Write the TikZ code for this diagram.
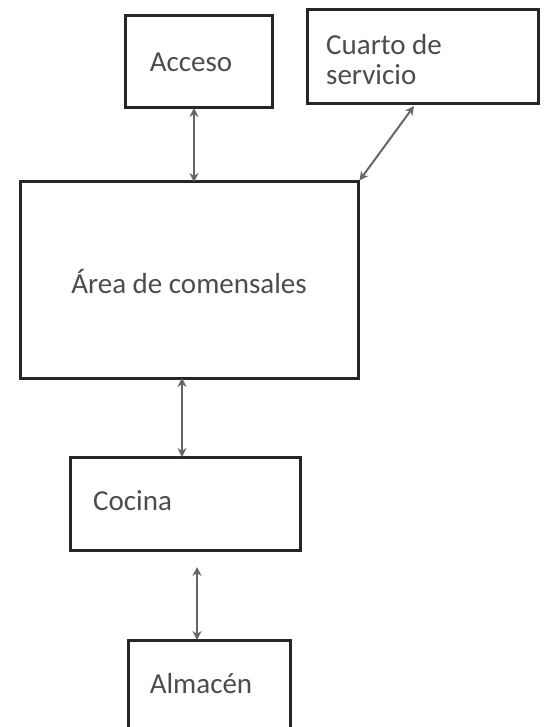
\documentclass[tikz,border=0pt]{standalone}
\usepackage{fontspec}
\setmainfont{Carlito}
\usetikzlibrary{arrows.meta}
\begin{document}
\begin{tikzpicture}[x=1pt,y=-1pt,
  room/.style={draw=black!85,line width=3pt,fill=white,inner sep=0pt},
  link/.style={draw=black!60,line width=2pt,{Stealth[length=9pt,width=9pt]}-{Stealth[length=9pt,width=9pt]}},
  lbl/.style={font=\fontsize{29}{30}\selectfont,text=black!70,inner sep=0pt}]
\useasboundingbox (0,0) rectangle (549,727);
\node[room,minimum width=147pt,minimum height=92pt] (acceso) at (198.5,61.5) {};
\node[lbl,anchor=base] (tacceso) at (191,72) {Acceso};
\node[room,minimum width=231pt,minimum height=94pt] (cuarto) at (422.5,57) {};
\node[lbl,align=left,anchor=base west] (tcuarto) at (326,85) {Cuarto de\\servicio};
\node[room,minimum width=338pt,minimum height=196pt] (area) at (189,280) {};
\node[lbl,anchor=base] (tarea) at (189,293) {Área de comensales};
\node[room,minimum width=230pt,minimum height=93pt] (cocina) at (185,503.5) {};
\node[lbl,anchor=base west] (tcocina) at (93,510) {Cocina};
\node[room,minimum width=162pt,minimum height=88pt] (almacen) at (209,684) {};
\node[lbl,anchor=base] (talmacen) at (201,693) {Almacén};
\coordinate (c1) at (194,108);
\coordinate (c2) at (194,182);
\draw[link] (c1) -- (c2);
\coordinate (s1) at (414,106);
\draw[link] (s1) -- (area.north east);
\coordinate (k1) at (182,378);
\coordinate (k2) at (182,457);
\draw[link] (k1) -- (k2);
\coordinate (a1) at (197,567);
\coordinate (a2) at (197,640);
\draw[link] (a1) -- (a2);
\end{tikzpicture}
\end{document}
